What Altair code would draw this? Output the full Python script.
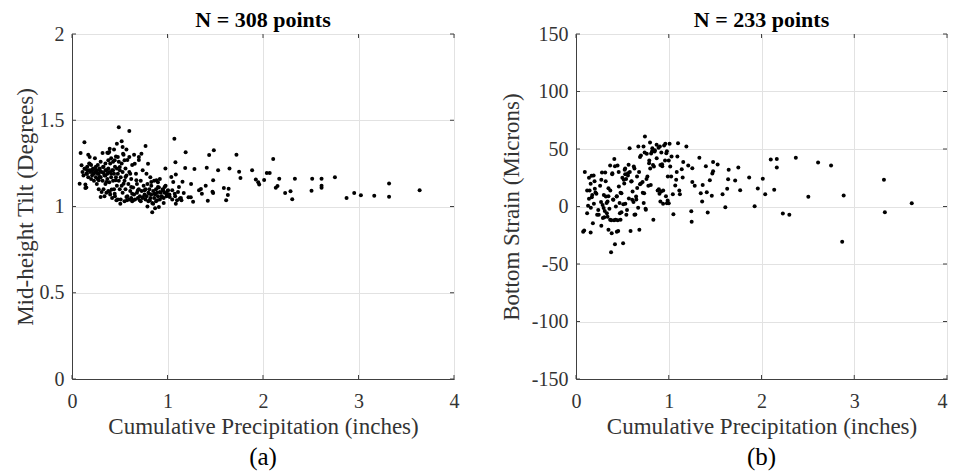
import altair as alt
import pandas as pd

FONT = "Liberation Serif"

# ---------------- Panel (a): Mid-height tilt ----------------
tilt_x = [
    3.64, 3.32, 3.32, 3.165, 3.025, 2.955, 2.875, 2.753, 2.613, 2.613, 2.613, 2.515, 2.508, 2.334, 2.306,
    2.288, 2.232, 2.17, 2.152, 2.134, 2.107, 2.07, 2.04, 2.012, 1.96, 1.95, 1.925, 1.886, 1.764, 1.75,
    1.722, 1.649, 1.64, 1.632, 1.614, 1.59, 1.53, 1.485, 1.478, 1.471, 1.478, 1.436, 1.411, 1.422, 1.40,
    1.36, 1.35, 1.33, 1.282, 1.268, 1.244, 1.22, 1.247, 1.185, 1.19, 1.17, 1.157, 1.13, 1.072, 1.083,
    1.087, 0.978,
    0.09, 0.10, 0.08, 0.13, 0.14, 0.14, 0.16, 0.17, 0.185, 0.185, 0.13, 0.157, 0.2, 0.22, 0.24,
    0.255, 0.27, 0.29, 0.28, 0.29, 0.30, 0.31, 0.32, 0.325, 0.33, 0.35, 0.35, 0.36, 0.37, 0.38,
    0.39, 0.395, 0.395, 0.41, 0.415, 0.43, 0.447, 0.447, 0.458, 0.465, 0.47, 0.48, 0.49, 0.5, 0.506,
    0.52, 0.53, 0.535, 0.54, 0.55, 0.56, 0.57, 0.576, 0.6, 0.6, 0.61, 0.62, 0.63, 0.64, 0.657,
    0.674, 0.69, 0.70, 0.71, 0.727, 0.744, 0.76, 0.77, 0.78, 0.796, 0.807, 0.814, 0.83, 0.84, 0.85,
    0.866, 0.884, 0.89, 0.90, 0.91, 0.92, 0.936, 0.954, 0.97, 0.99, 1.006, 1.024, 1.04, 1.05, 1.06,
    1.076, 1.087, 1.10, 1.11, 1.12, 1.146,
    0.11, 0.12, 0.14, 0.15, 0.16, 0.17, 0.18, 0.19, 0.2, 0.21, 0.22, 0.23, 0.24, 0.25, 0.25,
    0.26, 0.27, 0.27, 0.28, 0.29, 0.3, 0.3, 0.21, 0.23, 0.26, 0.28, 0.18, 0.15, 0.2, 0.24,
    0.31, 0.32, 0.33, 0.33, 0.34, 0.35, 0.35, 0.36, 0.36, 0.37, 0.37, 0.38, 0.38, 0.39, 0.39,
    0.4, 0.4, 0.41, 0.41, 0.42, 0.42, 0.43, 0.43, 0.44, 0.44, 0.45, 0.45, 0.46, 0.46, 0.47,
    0.47, 0.48, 0.48, 0.49, 0.49, 0.5, 0.5, 0.34, 0.38, 0.44,
    0.51, 0.51, 0.52, 0.52, 0.53, 0.53, 0.54, 0.55, 0.55, 0.56, 0.56, 0.57, 0.58, 0.58, 0.59,
    0.6, 0.6, 0.61, 0.62, 0.62, 0.63, 0.64, 0.65, 0.65, 0.66, 0.67, 0.68, 0.68, 0.69, 0.7,
    0.7, 0.71, 0.72, 0.72, 0.73, 0.74, 0.74, 0.75, 0.63, 0.57,
    0.76, 0.77, 0.77, 0.78, 0.79, 0.8, 0.8, 0.81, 0.82, 0.83, 0.83, 0.84, 0.85, 0.86, 0.86,
    0.87, 0.88, 0.88, 0.89, 0.9, 0.91, 0.92, 0.92, 0.93, 0.94, 0.95, 0.96, 0.97, 0.98, 0.99,
    1.0, 0.79, 0.87, 0.82, 0.9, 0.96,
    1.02, 1.05, 1.08, 1.14,
]
tilt_y = [
    1.094, 1.134, 1.057, 1.063, 1.065, 1.078, 1.049, 1.169, 1.161, 1.121, 1.109, 1.161, 1.092, 1.161, 1.042,
    1.088, 1.078, 1.161, 1.119, 1.109, 1.275, 1.194, 1.194, 1.154, 1.127, 1.14, 1.157, 1.21, 1.165, 1.202,
    1.30, 1.221, 1.103, 1.067, 1.036, 1.107, 1.21, 1.326, 1.152, 1.086, 1.078, 1.299, 1.225, 1.034, 1.12,
    1.074, 1.101, 1.094, 1.217, 1.028, 1.053, 1.053, 1.13, 1.223, 1.314, 1.078, 1.144, 1.047, 1.393, 1.256,
    1.185, 1.221,
    1.31, 1.239, 1.132, 1.372, 1.127, 1.107, 1.21, 1.30, 1.287, 1.248, 1.219, 1.19, 1.21, 1.19, 1.219,
    1.2, 1.19, 1.21, 1.152, 1.171, 1.055, 1.084, 1.31, 1.229, 1.194, 1.18, 1.21, 1.142, 1.312, 1.268,
    1.316, 1.335, 1.084, 1.19, 1.098, 1.21, 1.268, 1.074, 1.152, 1.036, 1.364, 1.287, 1.459, 1.229, 1.016,
    1.378, 1.345, 1.306, 1.132, 1.268, 1.171, 1.055, 1.036, 1.438, 1.287, 1.19, 1.113, 1.074, 1.036, 1.248,
    1.152, 1.094, 1.287, 1.036, 1.306, 1.055, 1.094, 1.351, 1.19, 1.248, 1.074, 1.036, 1.142, 0.966, 1.016,
    1.074, 1.152, 1.036, 1.113, 0.997, 1.084, 1.055, 1.094, 1.113, 1.074, 1.094, 1.055, 1.171, 1.094, 1.142,
    1.074, 1.016, 1.036, 1.084, 1.113, 1.036,
    1.2, 1.18, 1.22, 1.19, 1.23, 1.17, 1.21, 1.2, 1.24, 1.18, 1.22, 1.15, 1.2, 1.17, 1.23,
    1.21, 1.16, 1.24, 1.19, 1.22, 1.17, 1.26, 1.21, 1.19, 1.13, 1.1, 1.25, 1.11, 1.16, 1.28,
    1.2, 1.15, 1.23, 1.1, 1.18, 1.25, 1.13, 1.21, 1.08, 1.19, 1.16, 1.22, 1.09, 1.2, 1.14,
    1.25, 1.07, 1.17, 1.28, 1.21, 1.05, 1.15, 1.26, 1.19, 1.1, 1.23, 1.06, 1.17, 1.29, 1.12,
    1.22, 1.04, 1.19, 1.15, 1.26, 1.1, 1.21, 1.06, 1.31, 1.33,
    1.17, 1.04, 1.25, 1.12, 1.08, 1.2, 1.3, 1.15, 1.03, 1.22, 1.1, 1.18, 1.06, 1.27, 1.13,
    1.04, 1.2, 1.09, 1.16, 1.05, 1.24, 1.11, 1.07, 1.3, 1.04, 1.19, 1.08, 1.13, 1.05, 1.27,
    1.1, 1.06, 1.15, 1.03, 1.09, 1.21, 1.05, 1.12, 1.03, 1.33,
    1.07, 1.04, 1.1, 1.06, 1.13, 1.08, 1.03, 1.1, 1.05, 1.07, 1.12, 1.02, 1.09, 1.05, 1.15,
    1.07, 1.1, 1.03, 1.08, 1.06, 1.11, 1.04, 1.16, 1.08, 1.06, 1.1, 1.05, 1.08, 1.12, 1.06,
    1.09, 1.0, 0.99, 1.17, 1.14, 1.02,
    1.07, 1.04, 1.06, 1.05,
]

# ---------------- Panel (b): Bottom strain ----------------
strain_x = [
    3.62, 3.32, 3.33, 2.886, 2.87, 2.75, 2.61, 2.505, 2.37, 2.30, 2.23, 2.165, 2.165, 2.137, 2.10,
    2.04, 2.014, 1.96, 1.926, 1.867, 1.77, 1.75, 1.716, 1.64, 1.646, 1.63, 1.61, 1.58, 1.527, 1.478,
    1.478, 1.47, 1.464, 1.443, 1.42, 1.41, 1.40, 1.366, 1.36, 1.345, 1.33, 1.28, 1.247, 1.243, 1.254,
    1.254, 1.21, 1.19, 1.156, 1.14, 1.15, 1.12, 1.114, 1.10, 1.093, 1.086, 1.08, 1.07, 1.05, 1.044,
    1.03, 1.026, 1.016, 1.009, 1.0,
    0.088, 0.077, 0.158, 0.095, 0.12, 0.13, 0.14, 0.147, 0.158, 0.168, 0.175, 0.182, 0.193, 0.203, 0.21,
    0.228, 0.245, 0.273, 0.273, 0.28, 0.287, 0.298, 0.305, 0.315, 0.322, 0.333, 0.34, 0.35, 0.35, 0.368,
    0.368, 0.378, 0.385, 0.392, 0.403, 0.413, 0.42, 0.427, 0.438, 0.448, 0.455, 0.462, 0.473, 0.48, 0.49,
    0.508, 0.515, 0.525, 0.532, 0.543, 0.56, 0.567, 0.578, 0.588, 0.595, 0.606, 0.623, 0.63, 0.648, 0.658,
    0.672, 0.683, 0.69, 0.7, 0.718, 0.728, 0.735, 0.743, 0.753, 0.763, 0.77, 0.788, 0.798, 0.806, 0.823,
    0.834, 0.84, 0.848, 0.869, 0.893, 0.904, 0.91, 0.918, 0.928, 0.939, 0.963, 0.974, 0.98, 0.988,
    0.12, 0.14, 0.16, 0.17, 0.19, 0.2, 0.22, 0.24, 0.26, 0.27, 0.29, 0.3, 0.31, 0.32, 0.33,
    0.34, 0.35, 0.36, 0.37, 0.38, 0.39, 0.4, 0.41, 0.42, 0.43, 0.44, 0.45, 0.46, 0.47, 0.48,
    0.49, 0.5, 0.51, 0.52, 0.53, 0.54, 0.55, 0.56, 0.57, 0.58, 0.6, 0.61, 0.62, 0.63, 0.64,
    0.65, 0.66, 0.67, 0.68, 0.69, 0.7, 0.72, 0.73, 0.74, 0.75, 0.76, 0.78, 0.79, 0.8, 0.81,
    0.82, 0.83, 0.85, 0.87, 0.88, 0.89, 0.9, 0.91, 0.92, 0.93, 0.94, 0.95, 0.96, 0.97, 0.98,
    0.99, 1.0, 0.53, 0.44,
]
strain_y = [
    2.9, 23.2, -4.9, 9.6, -30.7, 35.7, 38.3, 8.4, 42.3, -7.2, -6.1, 41.2, 33.9, 14.5, 40.9,
    10.7, 24.1, 15.7, 0.3, 25.2, 14.2, 33.9, 22.6, 23.8, 31.9, 15.4, -0.6, 10.7, 36.5, 38.8,
    30.7, 28.7, 9.3, 22.9, -5.2, 12.5, 35.1, 18.6, 4.3, 11.6, 42.3, 18.0, -13.3, -4.1, 21.2,
    33.3, 35.7, 52.2, 38.6, 32.5, 25.2, 10.7, 13.9, 55.1, 43.5, 30.1, 23.2, 18.3, -6.7, 10.7,
    43.5, 26.1, 34.8, 54.5, 2.9,
    -20.9, -22.0, -22.6, 29.9, -5.8, 0.6, 6.7, 13.9, 19.7, 26.7, 10.1, -14.5, 2.3, 15.4, 12.2,
    -7.2, -7.2, -16.8, 23.2, 29.6, 1.4, -1.4, -9.3, 29.6, 8.7, -5.8, 4.3, -20.3, 15.9, -11.6,
    35.7, -39.7, -23.2, 29.0, 5.8, 41.2, -32.8, -11.6, 8.7, 35.7, -21.2, 17.4, -5.8, -11.6, 11.6,
    -31.9, 23.2, 31.9, 2.3, -7.2, 29.0, 36.2, 50.7, -21.2, 21.7, 5.8, 34.8, -7.2, 8.7, 26.1,
    52.2, -20.3, 19.4, 44.3, 21.2, 52.2, 11.6, 60.9, -2.9, 45.8, 26.1, 37.7, 55.7, 18.8, 50.7,
    -11.6, 34.8, 47.8, 53.6, 15.1, 52.2, 4.3, 13.0, 36.8, 2.3, 54.5, 46.4, 2.9, 5.2,
    14, 25, -1, 8, 27, 22, 11, -3, 18, 4, -10, 10, -4, 22, 3,
    -9, 9, -2, 14, -12, 28, 6, -12, 35, 0, 9, -12, 30, 3, 12,
    -5, 25, 2, 20, 33, 24, -3, 27, 7, 30, 22, 13, 4, 33, -7,
    6, 16, -1, 30, 43, 20, 12, 3, 47, -2, 24, 18, 40, 33, 46,
    48, 36, 49, 42, 14, 51, 11, 36, 47, 35, 14, 53, 40, 9, 48,
    26, 40, 28, -22,
]

x_ticks = [0, 1, 2, 3, 4]
tilt_ticks = [0, 0.5, 1, 1.5, 2]
strain_ticks = [-150, -100, -50, 0, 50, 100, 150]

PH = 345
AXC = "#404040"
TICK = 4


def panel(xs, ys, ydomain, yticks, ytitle, title, sub, title_pad, width, flush_last):
    xscale = alt.Scale(domain=[0, 4], nice=False, zero=False)
    yscale = alt.Scale(domain=ydomain, nice=False, zero=False)
    x_align = ({"condition": {"test": "datum.value == 4", "value": "right"}, "value": "center"}
               if flush_last else "center")
    xaxis = alt.Axis(values=x_ticks, title="Cumulative Precipitation (inches)",
                     labelExpr="'' + datum.value", labelPadding=12,
                     labelAlign=x_align, titlePadding=4, labelFlush=False)
    yaxis = alt.Axis(values=yticks, title=ytitle,
                     labelExpr="'' + datum.value", labelPadding=8,
                     titlePadding=title_pad, labelFlush=False)
    df = pd.DataFrame({"x": xs, "y": ys})
    pts = alt.Chart(df).mark_circle(size=16, color="black", opacity=1).encode(
        x=alt.X("x:Q", scale=xscale, axis=xaxis),
        y=alt.Y("y:Q", scale=yscale, axis=yaxis),
    )
    ydf = pd.DataFrame({"y": yticks})
    xdf = pd.DataFrame({"x": x_ticks})
    ytick_l = alt.Chart(ydf).mark_rule(color=AXC, strokeWidth=1).encode(
        y=alt.Y("y:Q", scale=yscale, axis=yaxis), x=alt.value(0), x2=alt.value(TICK))
    ytick_r = alt.Chart(ydf).mark_rule(color=AXC, strokeWidth=1).encode(
        y=alt.Y("y:Q", scale=yscale, axis=yaxis), x=alt.value(width - TICK), x2=alt.value(width))
    xtick_b = alt.Chart(xdf).mark_rule(color=AXC, strokeWidth=1).encode(
        x=alt.X("x:Q", scale=xscale, axis=xaxis), y=alt.value(PH - TICK), y2=alt.value(PH))
    xtick_t = alt.Chart(xdf).mark_rule(color=AXC, strokeWidth=1).encode(
        x=alt.X("x:Q", scale=xscale, axis=xaxis), y=alt.value(0), y2=alt.value(TICK))
    ttl = alt.Chart(pd.DataFrame({"t": [title]})).mark_text(
        fontSize=22, font=FONT, fontWeight="bold", color="black",
        baseline="alphabetic", align="center"
    ).encode(text="t:N", x=alt.value(width / 2), y=alt.value(-7))
    lab = alt.Chart(pd.DataFrame({"t": [sub]})).mark_text(
        fontSize=25, font=FONT, color="black", baseline="middle", align="center"
    ).encode(text="t:N", x=alt.value(width / 2), y=alt.value(PH + 78))
    return alt.layer(pts, ytick_l, ytick_r, xtick_b, xtick_t, ttl, lab).properties(
        width=width, height=PH)


left = panel(tilt_x, tilt_y, [0, 2], tilt_ticks, "Mid-height Tilt (Degrees)",
             "N = 308 points", "(a)", 2, 382, False)
right = panel(strain_x, strain_y, [-150, 150], strain_ticks, "Bottom Strain (Microns)",
              "N = 233 points", "(b)", 8, 371, True)

chart = alt.hconcat(left, right, spacing=39).properties(
    padding={"left": 5, "top": 0, "right": 0, "bottom": 0}
).configure_axis(
    labelFont=FONT, titleFont=FONT, labelFontSize=20, titleFontSize=23,
    labelColor="#333333", titleColor="#333333", titleFontWeight="normal",
    grid=True, gridColor="#e2e2e2", gridWidth=1,
    domain=True, domainColor=AXC, domainWidth=1,
    ticks=False,
).configure_view(
    stroke=AXC, strokeWidth=1
)

chart.save("out.html", embed_options={"renderer": "svg", "actions": False})
